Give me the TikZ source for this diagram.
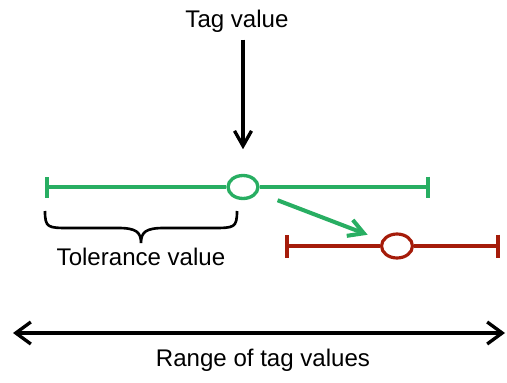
\documentclass[tikz,border=0pt]{standalone}
\usepackage{fontspec}
\setmainfont{Liberation Sans}
\usepackage{xcolor}
\usetikzlibrary{arrows.meta}
\usetikzlibrary{shapes.geometric}
\definecolor{tolgreen}{RGB}{40,174,98}
\definecolor{tolred}{RGB}{165,28,10}

\begin{document}
\begin{tikzpicture}[x=0.02cm, y=-0.02cm,
  lbl/.style = {font=\fontsize{13.7}{16}\selectfont, inner sep=0pt},
  gline/.style = {draw=tolgreen, line width=2.1pt},
  rline/.style = {draw=tolred, line width=2pt},
  gdot/.style = {draw=tolgreen, ellipse, line width=1.9pt, minimum width=0.6cm, minimum height=0.46cm, inner sep=0pt},
  rdot/.style = {draw=tolred, ellipse, line width=1.8pt, minimum width=0.62cm, minimum height=0.48cm, inner sep=0pt},
  barb/.style = {-{Straight Barb[length=0.3cm, width=0.34cm]}, line width=1.9pt}]
  \useasboundingbox (0,0) rectangle (507,382);
  % text
  \node[lbl] (tag) at (237,21) {Tag value};
  \node[lbl] (tol) at (141,257) {Tolerance value};
  \node[lbl] (range) at (263,360) {Range of tag values};
  % green interval
  \coordinate (gl) at (45,187);
  \coordinate (gr) at (430,187);
  \node[gdot] (g) at (243,187) {};
  \draw[gline, {Bar[width=0.42cm]}-] (gl) -- (g);
  \draw[gline, -{Bar[width=0.42cm]}] (g) -- (gr);
  % red interval
  \coordinate (rl) at (285,246);
  \coordinate (rr) at (500,246);
  \node[rdot] (r) at (397,246) {};
  \draw[rline, {Bar[width=0.46cm]}-] (rl) -- (r);
  \draw[rline, -{Bar[width=0.46cm]}] (r) -- (rr);
  % arrows
  \draw[barb, shorten >=14pt] ([yshift=-0.14cm]tag.south -| g.north) -- (g.north);
  \draw[barb, draw=tolgreen, line width=2.3pt, shorten <=0.42cm, shorten >=0.3cm] (g) -- (r);
  \coordinate (al) at (13,333);
  \coordinate (ar) at (505,333);
  \draw[line width=1.9pt, {Straight Barb[length=0.3cm, width=0.44cm]}-{Straight Barb[length=0.3cm, width=0.44cm]}] (al) -- (ar);
  % brace
  \draw[line width=1.5pt] (45,211) .. controls (45,228) and (48,228) .. (70,228) -- (118,228)
    .. controls (136,228) and (141,232) .. (141,243)
    .. controls (141,232) and (146,228) .. (164,228) -- (212,228)
    .. controls (234,228) and (237,228) .. (237,211);
\end{tikzpicture}
\end{document}
